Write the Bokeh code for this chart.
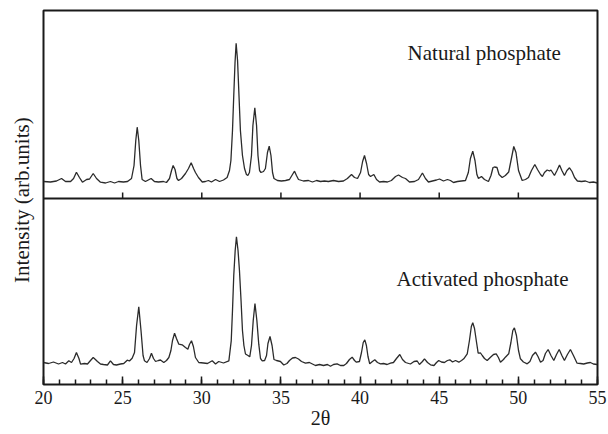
import math
from bokeh.plotting import figure
from bokeh.models import Range1d, Span, Label, SingleIntervalTicker, FixedTicker
from bokeh.embed import file_html
from bokeh.resources import INLINE

# ---- data (2theta in degrees, intensity in arb. units) ----
two_theta_natural = [
    20.00, 20.44, 20.82, 21.14, 21.39, 21.71, 21.90, 22.08, 22.27, 22.46, 22.72, 22.91,
    23.14, 23.35, 23.60, 23.92, 24.23, 24.49, 24.74, 25.05, 25.31, 25.56, 25.72, 25.83,
    25.92, 26.02, 26.13, 26.23, 26.44, 26.80, 27.01, 27.26, 27.58, 27.77, 27.96, 28.09,
    28.19, 28.31, 28.43, 28.53, 28.72, 28.97, 29.16, 29.33, 29.48, 29.60, 29.79, 30.03,
    30.23, 30.42, 30.61, 30.87, 31.12, 31.37, 31.60, 31.75, 31.84, 31.94, 32.02, 32.10,
    32.17, 32.26, 32.35, 32.44, 32.57, 32.70, 32.82, 32.91, 33.01, 33.14, 33.23, 33.35,
    33.46, 33.55, 33.65, 33.74, 33.90, 34.02, 34.15, 34.26, 34.37, 34.47, 34.56, 34.78,
    35.03, 35.29, 35.54, 35.73, 35.86, 35.98, 36.11, 36.42, 36.74, 36.99, 37.25, 37.50,
    37.75, 38.00, 38.32, 38.64, 38.95, 39.20, 39.46, 39.65, 39.84, 40.03, 40.16, 40.28,
    40.41, 40.54, 40.66, 40.87, 41.04, 41.23, 41.48, 41.73, 41.98, 42.24, 42.43, 42.68,
    42.87, 43.12, 43.44, 43.69, 43.94, 44.13, 44.32, 44.57, 44.83, 45.02, 45.27, 45.52,
    45.71, 45.90, 46.15, 46.40, 46.66, 46.84, 46.97, 47.12, 47.26, 47.38, 47.48, 47.67,
    47.86, 48.11, 48.27, 48.40, 48.49, 48.65, 48.78, 48.98, 49.18, 49.39, 49.56, 49.71,
    49.85, 50.01, 50.24, 50.45, 50.64, 50.83, 51.04, 51.21, 51.40, 51.52, 51.65, 51.82,
    51.97, 52.06, 52.28, 52.44, 52.60, 52.75, 52.91, 53.07, 53.23, 53.39, 53.55, 53.73,
    53.99, 54.24, 54.49, 54.74, 55.00,
]
intensity_natural = [
    17, 16.5, 17.5, 20, 17, 17, 20, 26.3, 21, 16.3, 19, 19.5,
    25, 20, 16.3, 15.5, 17, 15.5, 17, 16.5, 17, 20, 33, 58,
    71.3, 58, 33, 19, 17, 20, 17, 16.5, 17, 16, 20, 28,
    33, 29, 20, 18, 20, 25, 30, 35.7, 30, 26, 21, 16.5,
    17, 18, 16.5, 19, 17, 18.5, 21, 28, 38, 68, 103, 136,
    155.3, 138, 103, 68, 43, 30, 24, 23, 26, 43, 73, 90.7,
    73, 43, 28, 26, 27, 30, 46, 52.3, 43, 26, 20, 18,
    17.5, 18, 19, 24, 27.3, 23, 19, 17.5, 18, 16.5, 18, 17,
    17.5, 17, 18, 17, 17.5, 20, 24, 21, 20, 26, 37, 43,
    35, 24, 22, 24, 19, 16.5, 17, 16.5, 18, 22, 23.5, 21,
    20, 16.5, 17, 19, 25.5, 20, 16.5, 17.5, 18.5, 19.5, 17.5, 19,
    18, 16, 17, 17.5, 18, 26, 40, 47.3, 38, 24, 20, 22,
    19, 17, 23, 31, 31.5, 31, 24, 21, 23, 26.5, 40, 52,
    46, 28, 18, 19, 21, 28, 34, 29, 24, 22, 26, 28.5,
    27.5, 28.5, 23, 28, 33.5, 28, 23, 28, 30.7, 27, 21, 17.5,
    17, 17.5, 16, 16.5, 15.5,
]

two_theta_activated = [
    20.00, 20.32, 20.63, 20.95, 21.20, 21.39, 21.60, 21.77, 21.93, 22.08, 22.24, 22.34,
    22.59, 22.78, 22.97, 23.14, 23.28, 23.41, 23.60, 23.79, 24.04, 24.23, 24.42, 24.61,
    24.86, 25.07, 25.29, 25.43, 25.60, 25.75, 25.88, 26.02, 26.16, 26.29, 26.38, 26.54,
    26.70, 26.82, 26.95, 27.08, 27.26, 27.39, 27.60, 27.77, 27.92, 28.05, 28.15, 28.28,
    28.40, 28.55, 28.76, 28.97, 29.12, 29.22, 29.35, 29.47, 29.60, 29.81, 30.11, 30.36,
    30.66, 30.87, 31.07, 31.37, 31.71, 31.86, 31.94, 32.02, 32.11, 32.19, 32.29, 32.38,
    32.48, 32.57, 32.66, 32.76, 32.92, 33.03, 33.14, 33.25, 33.36, 33.48, 33.60, 33.71,
    33.82, 33.97, 34.09, 34.18, 34.31, 34.44, 34.56, 34.72, 34.97, 35.18, 35.38, 35.54,
    35.73, 35.92, 36.11, 36.30, 36.55, 36.80, 36.99, 37.18, 37.44, 37.69, 37.94, 38.13,
    38.32, 38.55, 38.76, 38.97, 39.14, 39.33, 39.50, 39.65, 39.77, 39.96, 40.09, 40.20,
    40.30, 40.40, 40.50, 40.61, 40.78, 40.93, 41.10, 41.29, 41.48, 41.71, 41.92, 42.11,
    42.30, 42.51, 42.68, 42.87, 43.18, 43.41, 43.61, 43.75, 43.94, 44.07, 44.26, 44.45,
    44.67, 44.83, 44.97, 45.14, 45.33, 45.52, 45.67, 45.84, 46.03, 46.24, 46.41, 46.55,
    46.77, 46.91, 47.03, 47.12, 47.23, 47.36, 47.46, 47.61, 47.72, 47.86, 48.03, 48.24,
    48.43, 48.60, 48.74, 48.87, 49.06, 49.18, 49.39, 49.53, 49.65, 49.75, 49.88, 50.01,
    50.13, 50.32, 50.56, 50.73, 50.89, 51.08, 51.24, 51.40, 51.56, 51.71, 51.88, 52.06,
    52.24, 52.41, 52.58, 52.75, 52.91, 53.10, 53.29, 53.48, 53.71, 53.92, 54.13, 54.36,
    54.55, 54.74, 54.98,
]
intensity_activated = [
    22, 21, 22.5, 20.5, 22, 20.5, 23.7, 22, 26, 32, 26, 20.3,
    21, 20.5, 24, 27, 25, 23, 20.5, 20, 19.5, 23.7, 20, 19.5,
    20.5, 21, 24.3, 23.5, 26.3, 32, 59, 77.7, 54, 29, 23.7, 22,
    26, 31.3, 26, 23, 24, 24.5, 22, 24, 27, 34, 44, 51.3,
    46, 40.3, 39.7, 37, 35.3, 40, 43.7, 38, 27, 22, 21.5, 21,
    23.7, 20.5, 23, 21.5, 23.7, 43.7, 74, 109, 134, 147.7, 134, 114,
    84, 54, 39, 30.5, 29, 27.7, 39, 64, 81, 64, 40.3, 26,
    23.7, 24, 29, 41, 48, 39, 25, 24, 23, 19.5, 21, 24,
    26.5, 27, 25.5, 23, 21.3, 22, 20.5, 19, 20, 19, 20, 18.3,
    20, 20.7, 19, 19, 21, 25, 27.3, 24, 22.3, 23, 32, 42,
    44.7, 39, 28, 20.7, 23, 24.7, 22, 20.7, 21, 20, 21.3, 22,
    26, 30, 25, 22, 20.5, 23, 23.5, 20, 23, 25.7, 22, 19.7,
    19, 22, 24, 22.5, 22, 24, 24.7, 22.5, 24, 22.3, 24, 25.7,
    30.7, 44, 58, 61.7, 56, 42, 31.3, 31.5, 29, 26, 24, 27.3,
    30, 30.7, 27, 22.3, 25, 27.3, 30.7, 42, 54, 56.7, 49, 34,
    25.7, 22.5, 20.7, 23, 29, 32.3, 28, 22.3, 24, 31, 35, 29,
    24, 30, 35, 29, 24, 30, 35, 29, 21.3, 21, 20.5, 21.5,
    22, 20.5, 20,
]

major_ticks = [25, 30, 35, 40, 45, 50]
panel_offset = 186  # the upper pattern is stacked above the lower one

FONT = "Liberation Serif"
INK = "#1a1a1a"

p = figure(width=608, height=434, x_range=Range1d(20, 55), y_range=Range1d(0, 374),
           output_backend="svg", toolbar_location=None,
           min_border_left=43, min_border_right=11, min_border_top=10, min_border_bottom=50)
p.background_fill_color = "white"
p.border_fill_color = "white"
p.outline_line_color = INK
p.outline_line_width = 2
p.xgrid.visible = False
p.ygrid.visible = False

# x axis
xa = p.xaxis[0]
xa.ticker = SingleIntervalTicker(interval=5, num_minor_ticks=5)
xa.axis_line_color = None
xa.major_tick_in = 8
xa.major_tick_out = 0
xa.minor_tick_in = 5
xa.minor_tick_out = 0
xa.major_tick_line_color = INK
xa.minor_tick_line_color = INK
xa.major_tick_line_width = 1.5
xa.minor_tick_line_width = 1.5
xa.major_label_text_font = FONT
xa.major_label_text_font_size = "18px"
xa.major_label_text_color = INK
xa.major_label_standoff = 6
xa.axis_label = "2θ"
xa.axis_label_text_font = FONT
xa.axis_label_text_font_style = "normal"
xa.axis_label_text_font_size = "20px"
xa.axis_label_text_color = INK
xa.axis_label_standoff = 0

# y axis: only its title
ya = p.yaxis[0]
ya.ticker = FixedTicker(ticks=[])
ya.axis_line_color = None
ya.major_tick_out = 0
ya.major_tick_in = 0
ya.minor_tick_out = 0
ya.major_label_standoff = 0
ya.axis_label = "Intensity  (arb.units)"
ya.axis_label_text_font = FONT
ya.axis_label_text_font_style = "normal"
ya.axis_label_text_font_size = "21px"
ya.axis_label_text_color = INK
ya.axis_label_standoff = 10

# divider between the two patterns, with its tick marks
p.add_layout(Span(location=panel_offset, dimension="width", line_color=INK, line_width=2))
p.ray(x=major_ticks, y=[panel_offset] * len(major_ticks), length=6, angle=math.pi / 2,
      length_units="screen", line_color=INK, line_width=1.5)

LINE = "#2b2b2b"
p.line(two_theta_activated, intensity_activated, line_color=LINE, line_width=1.3)
p.line(two_theta_natural, [v + panel_offset for v in intensity_natural],
       line_color=LINE, line_width=1.3)

p.add_layout(Label(x=43.0, y=332, text="Natural phosphate", text_font=FONT,
                   text_font_size="21px", text_color=INK, text_baseline="alphabetic"))
p.add_layout(Label(x=42.3, y=106, text="Activated phosphate", text_font=FONT,
                   text_font_size="21px", text_color=INK, text_baseline="alphabetic"))

open("out.html", "w").write(file_html(p, INLINE))
